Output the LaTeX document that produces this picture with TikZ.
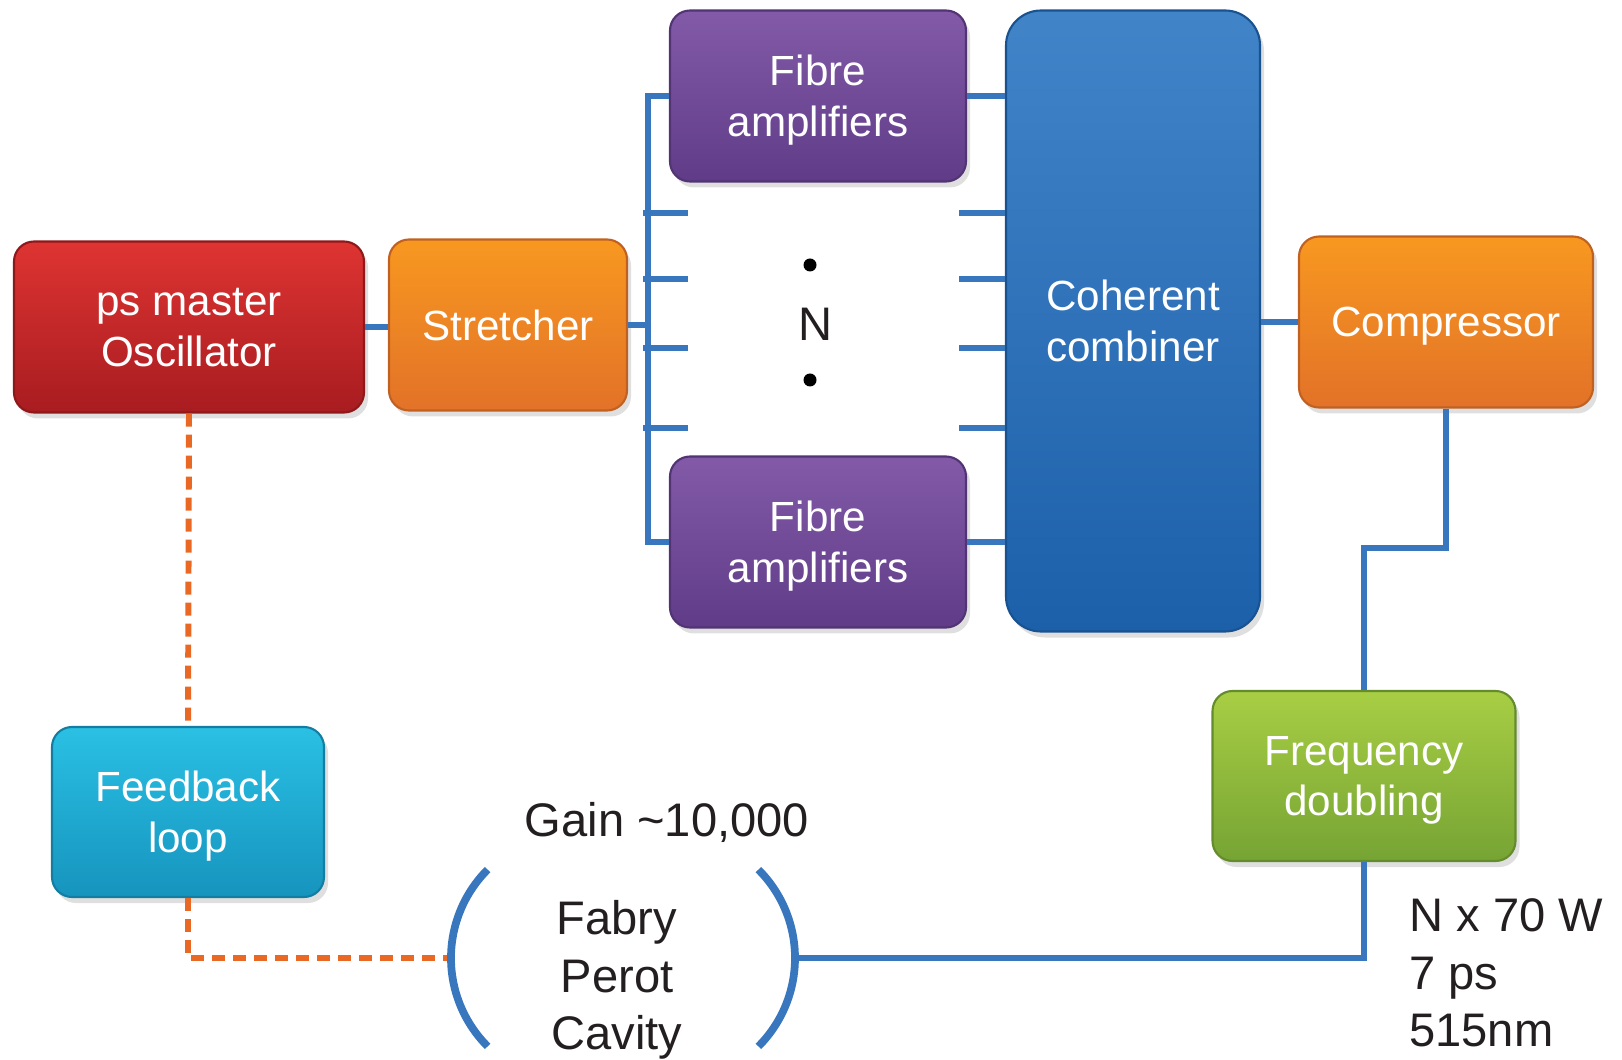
\documentclass[tikz,border=0pt]{standalone}
\usepackage{fontspec}
\setmainfont{Liberation Sans}
\usepackage{tikz}
\usetikzlibrary{shadows,calc}
\definecolor{redT}{RGB}{222,52,50}
\definecolor{redB}{RGB}{168,28,32}
\definecolor{orgT}{RGB}{248,152,32}
\definecolor{orgB}{RGB}{226,114,40}
\definecolor{purT}{RGB}{130,90,168}
\definecolor{purB}{RGB}{96,60,136}
\definecolor{bluT}{RGB}{66,132,200}
\definecolor{bluB}{RGB}{28,96,170}
\definecolor{grnT}{RGB}{168,206,68}
\definecolor{grnB}{RGB}{118,164,52}
\definecolor{cyaT}{RGB}{42,192,228}
\definecolor{cyaB}{RGB}{22,148,190}
\definecolor{beam}{RGB}{56,118,190}
\definecolor{loopc}{RGB}{232,104,36}
\definecolor{ink}{RGB}{35,31,32}

\begin{document}
\begin{tikzpicture}[
  block/.style={rounded corners=0.2cm, minimum height=1.71cm, align=center, text=white,
    font=\fontsize{12}{14.5}\selectfont, text depth=0pt, draw=#1B!85!black, line width=0.6pt,
    top color=#1T, bottom color=#1B,
    drop shadow={opacity=0.25,shadow xshift=0.04cm,shadow yshift=-0.06cm}},
  fibre/.style={beam, line width=1.7pt},
  mirror/.style={beam, line width=2.2pt},
  feedback/.style={loopc, line width=1.7pt, dash pattern=on 0.13cm off 0.08cm},
  label/.style={text=ink, font=\fontsize{13.4}{16.3}\selectfont, align=center}]
\useasboundingbox (0,0) rectangle (16.22,-10.60);

\node[block=red, minimum width=3.50cm] (osc) at (1.89,-3.27) {ps master\\Oscillator};
\node[block=org, minimum width=2.38cm] (str) at (5.08,-3.25) {Stretcher};
\node[block=pur, minimum width=2.96cm] (ampA) at (8.18,-0.96) {Fibre\\amplifiers};
\node[block=pur, minimum width=2.96cm] (ampB) at (8.18,-5.42) {Fibre\\amplifiers};
\node[block=blu, minimum width=2.54cm, minimum height=6.21cm, rounded corners=0.35cm] (comb) at (11.33,-3.21) {Coherent\\combiner};
\node[block=org, minimum width=2.94cm] (comp) at (14.46,-3.22) {Compressor};
\node[block=grn, minimum width=3.03cm, minimum height=1.70cm] (freq) at (13.64,-7.76) {Frequency\\doubling};
\node[block=cya, minimum width=2.72cm, minimum height=1.70cm] (fb) at (1.88,-8.12) {Feedback\\loop};

\node[label] (nlab) at (8.15,-3.24) {N};
\fill[black] (8.10,-2.65) circle (0.065);
\fill[black] (8.10,-3.80) circle (0.065);

\node[label] (gain) at (6.67,-8.22) {Gain \textasciitilde10,000};
\node[label] (fp) at (6.17,-9.80) {Fabry\\Perot\\Cavity};
\node[label, align=left, anchor=west] (out) at (13.97,-9.73) {N x 70 W\\7 ps\\515nm};

\coordinate (bus) at (6.48,0);
\coordinate (jog) at (0,-5.48);
\coordinate (mirL) at (4.51,-9.58);
\coordinate (mirR) at (7.95,-9.58);

\draw[fibre] (osc.east) -- (osc.east -| str.west);
\draw[fibre] (str.east) -- (str.east -| bus);
\draw[fibre] (ampA.west) -- (ampA.west -| bus) -- (ampB.west -| bus) -- (ampB.west);
\foreach \y in {2.13,2.79,3.48,4.28}{
  \draw[fibre] ($(bus |- 0,-\y)+(-0.05,0)$) -- ++(0.45,0);
  \draw[fibre] (comb.west |- 0,-\y) -- ++(-0.46,0);
}
\draw[fibre] (ampA.east) -- (ampA.east -| comb.west);
\draw[fibre] (ampB.east) -- (ampB.east -| comb.west);
\draw[fibre] (comb.east |- comp.west) -- (comp.west);
\draw[fibre] (comp.south) -- (comp.south |- jog) -| (freq.north);
\draw[fibre] (freq.south) |- (mirR);

\draw[feedback] (osc.south) -- (fb.north);
\draw[feedback] (fb.south) |- (mirL);

\draw[mirror] (mirL) arc[start angle=180, end angle=135, radius=1.25];
\draw[mirror] (mirL) arc[start angle=180, end angle=225, radius=1.25];
\draw[mirror] (mirR) arc[start angle=0, end angle=45, radius=1.25];
\draw[mirror] (mirR) arc[start angle=0, end angle=-45, radius=1.25];
\end{tikzpicture}
\end{document}
